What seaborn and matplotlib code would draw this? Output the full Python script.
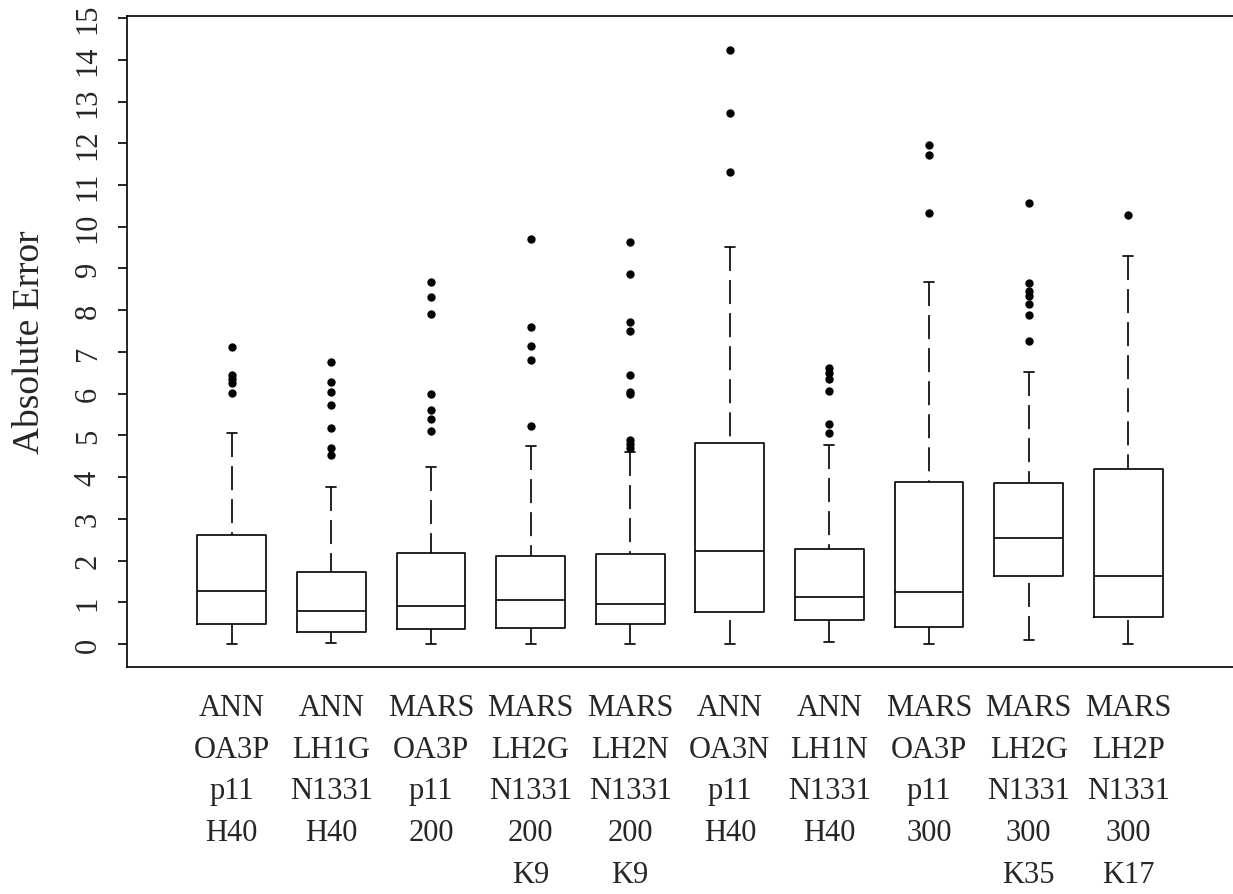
import seaborn as sns
import matplotlib.pyplot as plt
import pandas as pd

sns.set_style("white")
plt.rcParams['font.family'] = ['Liberation Serif', 'DejaVu Serif']
plt.rcParams['lines.scale_dashes'] = False

# model names (one box each)
labels = ["ANN\nOA3P\np11\nH40", "ANN\nLH1G\nN1331\nH40", "MARS\nOA3P\np11\n200",
          "MARS\nLH2G\nN1331\n200\nK9", "MARS\nLH2N\nN1331\n200\nK9", "ANN\nOA3N\np11\nH40",
          "ANN\nLH1N\nN1331\nH40", "MARS\nOA3P\np11\n300", "MARS\nLH2G\nN1331\n300\nK35",
          "MARS\nLH2P\nN1331\n300\nK17"]

# box summaries
whisker_low = [0.0, 0.02, 0.0, 0.0, 0.0, 0.0, 0.05, 0.0, 0.10, 0.0]
q1 = [0.47, 0.29, 0.35, 0.38, 0.48, 0.76, 0.58, 0.40, 1.63, 0.64]
medians = [1.28, 0.78, 0.92, 1.05, 0.95, 2.22, 1.12, 1.24, 2.54, 1.63]
q3 = [2.61, 1.73, 2.19, 2.12, 2.16, 4.81, 2.28, 3.88, 3.85, 4.20]
whisker_high = [5.06, 3.76, 4.25, 4.75, 4.61, 9.52, 4.77, 8.68, 6.51, 9.30]

outliers = [
    [7.13, 6.45, 6.35, 6.25, 6.02],
    [6.76, 6.28, 6.03, 5.72, 5.18, 4.70, 4.52],
    [8.68, 8.31, 7.92, 5.99, 5.62, 5.39, 5.10],
    [9.70, 7.60, 7.14, 6.81, 5.22],
    [9.63, 8.86, 7.72, 7.50, 6.45, 6.03, 5.98, 4.88, 4.80, 4.70],
    [14.24, 12.73, 11.32],
    [6.61, 6.49, 6.36, 6.07, 5.27, 5.05],
    [11.95, 11.73, 10.34],
    [10.58, 8.65, 8.45, 8.34, 8.15, 7.88, 7.26],
    [10.27],
]

stats = []
for i in range(len(labels)):
    stats.append(dict(whislo=whisker_low[i], q1=q1[i], med=medians[i], q3=q3[i],
                      whishi=whisker_high[i], fliers=[]))

df = pd.DataFrame({
    "model": [labels[i] for i, vals in enumerate(outliers) for v in vals],
    "value": [v for vals in outliers for v in vals],
})

fig = plt.figure(figsize=(12.33, 8.95), dpi=100)
ax = fig.add_axes([127 / 1233, 1 - 668 / 895, 1106 / 1233, 651 / 895])

lw = 1.2
parts = ax.bxp(stats, positions=range(len(labels)), widths=0.69, capwidths=0.1,
               showfliers=False, manage_ticks=False,
               boxprops=dict(color="black", linewidth=lw),
               medianprops=dict(color="black", linewidth=lw),
               whiskerprops=dict(color="black", linewidth=lw, linestyle=(0, (17.3, 6.5))),
               capprops=dict(color="black", linewidth=lw))
# R draws whiskers from the end towards the box, so the dash pattern starts at the cap
for line in parts["whiskers"]:
    xs, ys = line.get_data()
    line.set_data(xs[::-1], ys[::-1])

sns.stripplot(data=df, x="model", y="value", order=labels, jitter=False,
              color="black", size=6, linewidth=0, ax=ax)

ax.set_xlim(-1.05, 10.05)
ax.set_ylim(-0.55, 15.05)
ax.set_yticks(range(0, 16))
ax.set_xticks(range(len(labels)))
ax.set_xticklabels(labels, fontsize=22, linespacing=1.57)
ax.tick_params(axis="x", bottom=False, length=0, pad=19)
ax.tick_params(axis="y", left=True, length=6.5, width=lw, pad=11,
               labelsize=22, labelrotation=90, color="black")
for lab in ax.get_yticklabels():
    lab.set_va("center")

ax.set_xlabel("")
ax.set_ylabel("Absolute Error", fontsize=27)
ax.yaxis.set_label_coords(-0.072, 0.5)

for side in ["left", "top", "bottom"]:
    ax.spines[side].set_color("black")
    ax.spines[side].set_linewidth(lw)
ax.spines["right"].set_visible(False)

fig.savefig("out.png", dpi=100)
